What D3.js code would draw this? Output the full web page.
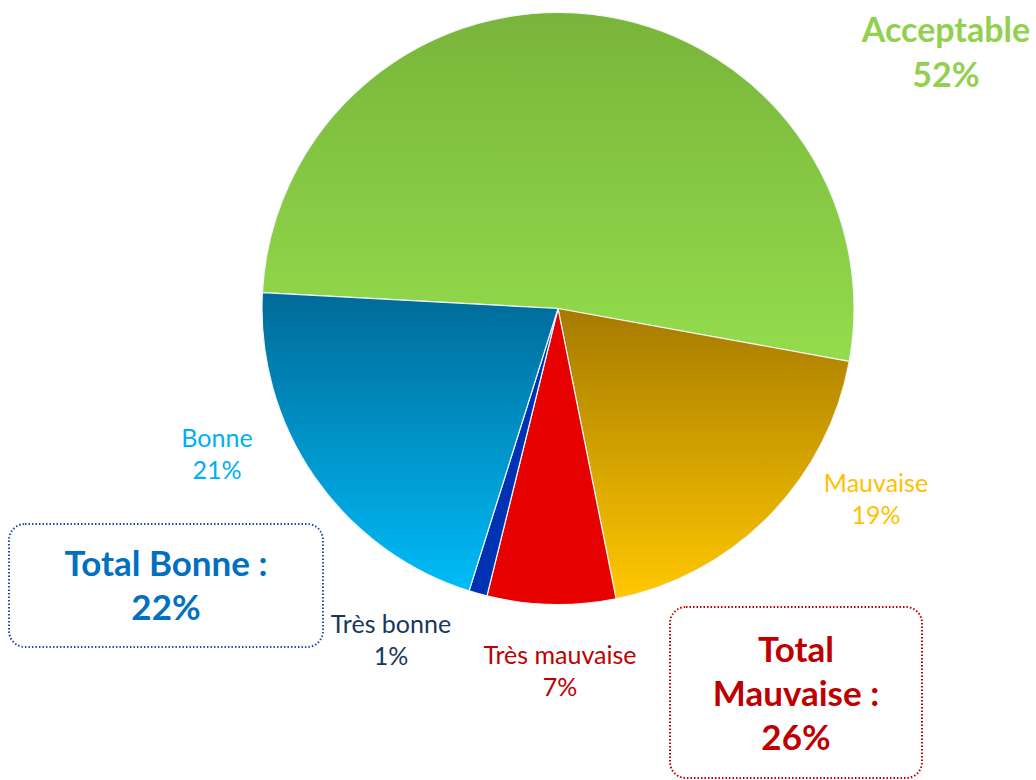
<!DOCTYPE html>
<html>
<head>
<meta charset="UTF-8" />
<title>Qualité</title>
<style>
    body { margin: 0; padding: 0; background: #fff; font-family: Lato, "Open Sans", sans-serif; }
    svg { display: block; }
</style>
</head>
<body>
<svg width="1036" height="780"></svg>
<script src="https://d3js.org/d3.v7.min.js"></script>
<script>
    // data, clockwise from the left
    const categories = ["Acceptable", "Mauvaise", "Très mauvaise", "Très bonne", "Bonne"];
    const values = [52, 19, 7, 1, 21];
    const totalLabels = ["Total Bonne :", "22%"];
    const totalMauvaiseLabels = ["Total", "Mauvaise :", "26%"];

    // colours: gradient top / bottom and label colour
    const fillTop = ["#78b43a", "#a67a00", "#e60000", "#0032b4", "#006a98"];
    const fillBottom = ["#94dc4c", "#ffc800", "#e60000", "#0032b4", "#00bcf8"];
    const labelColor = ["#92d050", "#ffc000", "#c00000", "#17375e", "#00b0f0"];

    const svg = d3.select("svg");
    const cx = 558, cy = 308.5, r = 296;

    const pie = d3.pie()
        .sort(null)
        .value(d => d)
        .startAngle(-1.517)
        .endAngle(-1.517 + 2 * Math.PI);

    const arc = d3.arc().innerRadius(0).outerRadius(r);

    const defs = svg.append("defs");
    categories.forEach((c, i) => {
        const g = defs.append("linearGradient")
            .attr("id", "grad" + i)
            .attr("x1", 0).attr("y1", 0).attr("x2", 0).attr("y2", 1);
        g.append("stop").attr("offset", "0%").attr("stop-color", fillTop[i]);
        g.append("stop").attr("offset", "100%").attr("stop-color", fillBottom[i]);
    });

    const g = svg.append("g").attr("transform", `translate(${cx},${cy})`);

    g.selectAll("path")
        .data(pie(values))
        .enter().append("path")
        .attr("d", arc)
        .attr("fill", (d, i) => `url(#grad${i})`)
        .attr("stroke", "#eef6f8")
        .attr("stroke-width", 1.2)
        .attr("stroke-linejoin", "round");

    // label positions (centre x, first baseline y)
    const labelPos = [
        { x: 946, y: 42, size: 34, weight: 700, gap: 45 },
        { x: 876, y: 492, size: 25, weight: 400, gap: 32 },
        { x: 560, y: 664, size: 25, weight: 400, gap: 32 },
        { x: 391, y: 633, size: 25, weight: 400, gap: 32 },
        { x: 217, y: 447, size: 25, weight: 400, gap: 32 }
    ];

    const labels = svg.append("g").selectAll("text")
        .data(pie(values))
        .enter().append("text")
        .attr("text-anchor", "middle")
        .attr("fill", (d, i) => labelColor[i])
        .attr("font-size", (d, i) => labelPos[i].size)
        .attr("font-weight", (d, i) => labelPos[i].weight);

    labels.append("tspan")
        .attr("x", (d, i) => labelPos[i].x)
        .attr("y", (d, i) => labelPos[i].y)
        .text((d, i) => categories[i]);
    labels.append("tspan")
        .attr("x", (d, i) => labelPos[i].x)
        .attr("y", (d, i) => labelPos[i].y + labelPos[i].gap)
        .text(d => d.data + "%");

    // total boxes
    function totalBox(x, y, w, h, stroke, color, lines, firstY, gap) {
        svg.append("rect")
            .attr("x", x).attr("y", y)
            .attr("width", w).attr("height", h)
            .attr("rx", 16).attr("ry", 16)
            .attr("fill", "none")
            .attr("stroke", stroke)
            .attr("stroke-width", 2)
            .attr("stroke-dasharray", "1.5 2")
            .attr("stroke-linecap", "butt");
        const t = svg.append("text")
            .attr("text-anchor", "middle")
            .attr("fill", color)
            .attr("font-size", 35)
            .attr("font-weight", 700);
        lines.forEach((l, i) => {
            t.append("tspan")
                .attr("x", x + w / 2)
                .attr("y", firstY + i * gap)
                .text(l);
        });
    }

    totalBox(9, 524, 314, 123, "#1f4fb0", "#0070c0", totalLabels, 576, 44);
    totalBox(670, 607, 252, 171, "#c00000", "#c00000", totalMauvaiseLabels, 662, 44);
</script>
</body>
</html>
